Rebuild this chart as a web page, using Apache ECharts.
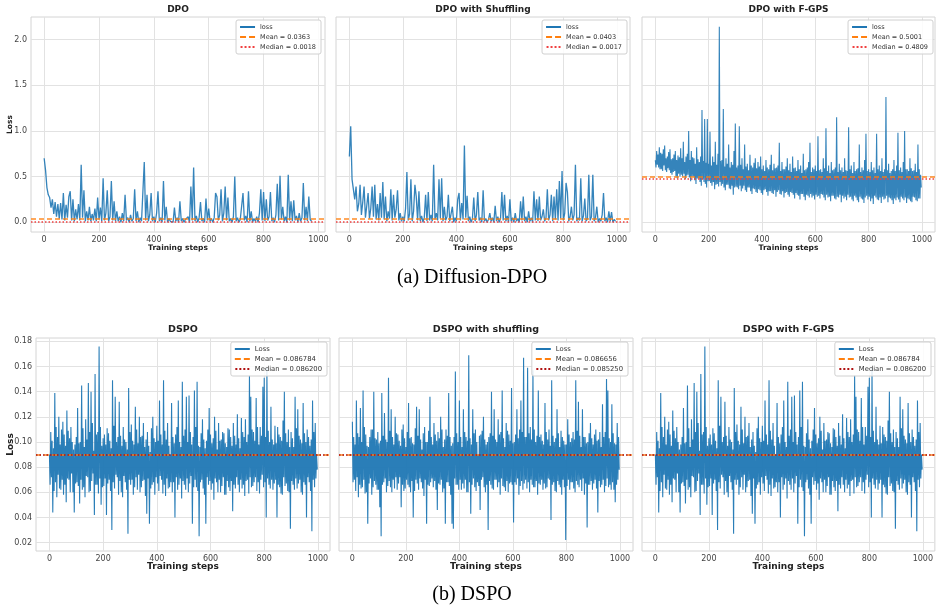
<!DOCTYPE html>
<html>
<head>
<meta charset="utf-8">
<title>DPO / DSPO loss curves</title>
<script src="https://cdn.jsdelivr.net/npm/echarts@6/dist/echarts.min.js"></script>
<style>
  html, body { margin: 0; padding: 0; background: #fff; }
  #chart { width: 936px; height: 607px; }
</style>
</head>
<body>
<div id="chart"></div>
<script>
// DPO curves are read every 5 steps, the dense curves every 2.5 steps
const steps = Array.from({ length: 200 }, (_, i) => i * 5)
const fineSteps = Array.from({ length: 400 }, (_, i) => i * 2.5)

const panelTitles = ['DPO', 'DPO with Shuffling', 'DPO with F-GPS', 'DSPO', 'DSPO with shuffling', 'DSPO with F-GPS']
const meanValues = [0.0363, 0.0403, 0.5001, 0.086784, 0.086656, 0.086784]
const medianValues = [0.0018, 0.0017, 0.4809, 0.0862, 0.08525, 0.0862]
const captions = ['(a) Diffusion-DPO', '(b) DSPO']

const xTicks = [0, 200, 400, 600, 800, 1000]
const topYTicks = [0, 0.5, 1, 1.5, 2]
const bottomYTicks = [0.02, 0.04, 0.06, 0.08, 0.1, 0.12, 0.14, 0.16, 0.18]

// Diffusion-DPO (steps 0..975)
const dpoLoss = [
  0.70, 0.57, 0.38, 0.30, 0.27, 0.16, 0.25, 0.09, 0.22, 0.06, 0.20, 0.04, 0.21, 0.03, 0.32, 0.02, 0.19, 0.05, 0.28, 0.34,
  0.02, 0.25, 0.01, 0.14, 0.03, 0.20, 0.02, 0.63, 0.05, 0.35, 0.01, 0.12, 0.02, 0.17, 0.01, 0.09, 0.02, 0.15, 0.01, 0.27,
  0.03, 0.16, 0.01, 0.48, 0.02, 0.10, 0.35, 0.01, 0.06, 0.45, 0.02, 0.23, 0.01, 0.12, 0.01, 0.06, 0.00, 0.10, 0.01, 0.30,
  0.02, 0.05, 0.00, 0.08, 0.01, 0.04, 0.36, 0.01, 0.12, 0.00, 0.05, 0.01, 0.03, 0.66, 0.02, 0.30, 0.01, 0.08, 0.32, 0.01,
  0.06, 0.00, 0.10, 0.34, 0.01, 0.05, 0.00, 0.45, 0.02, 0.17, 0.00, 0.04, 0.01, 0.03, 0.00, 0.16, 0.01, 0.05, 0.00, 0.23,
  0.01, 0.04, 0.00, 0.03, 0.01, 0.06, 0.00, 0.39, 0.02, 0.60, 0.01, 0.07, 0.00, 0.05, 0.22, 0.01, 0.04, 0.00, 0.26, 0.02,
  0.15, 0.01, 0.04, 0.00, 0.05, 0.32, 0.28, 0.02, 0.08, 0.36, 0.01, 0.10, 0.39, 0.02, 0.27, 0.01, 0.04, 0.00, 0.06, 0.50,
  0.01, 0.05, 0.00, 0.03, 0.01, 0.32, 0.02, 0.07, 0.00, 0.34, 0.01, 0.12, 0.00, 0.04, 0.01, 0.06, 0.00, 0.10, 0.36, 0.02,
  0.33, 0.01, 0.25, 0.02, 0.06, 0.33, 0.01, 0.05, 0.00, 0.08, 0.42, 0.02, 0.51, 0.03, 0.17, 0.01, 0.06, 0.00, 0.52, 0.02,
  0.23, 0.01, 0.24, 0.02, 0.07, 0.00, 0.10, 0.01, 0.05, 0.43, 0.02, 0.17, 0.01, 0.28, 0.03, 0.01
]

const dpoShuffleLoss = [
  0.72, 1.05, 0.47, 0.36, 0.25, 0.39, 0.12, 0.20, 0.41, 0.08, 0.22, 0.39, 0.05, 0.18, 0.32, 0.04, 0.15, 0.39, 0.06, 0.41,
  0.03, 0.20, 0.02, 0.32, 0.05, 0.44, 0.03, 0.28, 0.01, 0.12, 0.04, 0.36, 0.02, 0.30, 0.05, 0.14, 0.35, 0.02, 0.10, 0.01,
  0.06, 0.01, 0.15, 0.55, 0.02, 0.09, 0.47, 0.01, 0.12, 0.41, 0.28, 0.02, 0.34, 0.01, 0.07, 0.00, 0.05, 0.30, 0.01, 0.33,
  0.02, 0.08, 0.01, 0.63, 0.03, 0.10, 0.02, 0.47, 0.04, 0.48, 0.01, 0.17, 0.02, 0.06, 0.30, 0.01, 0.09, 0.17, 0.00, 0.05,
  0.01, 0.25, 0.32, 0.02, 0.21, 0.03, 0.84, 0.05, 0.29, 0.01, 0.06, 0.00, 0.04, 0.27, 0.01, 0.08, 0.33, 0.02, 0.05, 0.00,
  0.35, 0.01, 0.04, 0.00, 0.03, 0.10, 0.01, 0.05, 0.00, 0.18, 0.01, 0.06, 0.00, 0.04, 0.33, 0.02, 0.30, 0.01, 0.07, 0.00,
  0.25, 0.01, 0.05, 0.00, 0.10, 0.01, 0.04, 0.00, 0.23, 0.02, 0.28, 0.01, 0.06, 0.00, 0.12, 0.01, 0.05, 0.00, 0.34, 0.02,
  0.25, 0.01, 0.28, 0.02, 0.06, 0.14, 0.01, 0.05, 0.36, 0.02, 0.08, 0.30, 0.01, 0.28, 0.03, 0.36, 0.02, 0.45, 0.04, 0.56,
  0.02, 0.10, 0.43, 0.33, 0.01, 0.06, 0.17, 0.02, 0.08, 0.63, 0.01, 0.05, 0.02, 0.48, 0.01, 0.07, 0.26, 0.01, 0.04, 0.52,
  0.02, 0.06, 0.52, 0.01, 0.05, 0.17, 0.00, 0.04, 0.01, 0.08, 0.32, 0.01, 0.05, 0.00, 0.12, 0.01, 0.11, 0.00, 0.03, 0.01
]

// every 2.5 steps
const fgpsLoss = [
  0.68, 0.60, 0.78, 0.63, 0.74, 0.60, 0.82, 0.58, 0.76, 0.58, 0.75, 0.56, 0.80, 0.62, 0.84, 0.57, 0.70, 0.55, 0.72, 0.59,
  0.77, 0.57, 0.80, 0.54, 0.69, 0.52, 0.70, 0.55, 0.74, 0.56, 0.78, 0.50, 0.68, 0.48, 0.73, 0.53, 0.71, 0.50, 0.81, 0.52,
  0.70, 0.50, 0.88, 0.53, 0.66, 0.47, 0.72, 0.51, 0.75, 0.52, 1.00, 0.49, 0.68, 0.45, 0.78, 0.50, 0.71, 0.50, 0.70, 0.46,
  0.64, 0.42, 0.82, 0.48, 0.69, 0.48, 0.66, 0.44, 0.72, 0.40, 1.23, 0.47, 0.67, 0.44, 1.13, 0.42, 0.65, 0.38, 1.13, 0.45,
  0.64, 0.45, 0.99, 0.43, 0.62, 0.40, 0.72, 0.44, 0.66, 0.36, 0.88, 0.41, 0.63, 0.42, 0.75, 0.39, 2.14, 0.44, 0.67, 0.40,
  0.68, 0.42, 1.24, 0.38, 0.61, 0.35, 0.70, 0.41, 0.64, 0.41, 0.85, 0.37, 0.60, 0.36, 0.66, 0.40, 0.63, 0.30, 0.78, 0.38,
  1.08, 0.39, 0.60, 0.38, 0.62, 0.36, 1.05, 0.40, 0.63, 0.34, 0.70, 0.37, 0.58, 0.40, 0.85, 0.35, 0.61, 0.33, 0.64, 0.38,
  0.57, 0.38, 0.74, 0.34, 0.62, 0.31, 0.60, 0.37, 0.65, 0.36, 0.70, 0.33, 0.59, 0.32, 0.66, 0.36, 0.61, 0.35, 0.72, 0.32,
  0.58, 0.30, 0.62, 0.35, 0.56, 0.36, 0.68, 0.33, 0.60, 0.29, 0.58, 0.34, 0.63, 0.34, 0.74, 0.32, 0.57, 0.31, 0.64, 0.35,
  0.59, 0.28, 0.60, 0.33, 0.62, 0.35, 0.87, 0.31, 0.56, 0.30, 0.66, 0.34, 0.58, 0.27, 0.58, 0.32, 0.61, 0.33, 0.70, 0.30,
  0.57, 0.28, 0.64, 0.33, 0.55, 0.32, 0.72, 0.30, 0.59, 0.26, 0.60, 0.32, 0.56, 0.30, 0.68, 0.29, 0.58, 0.25, 0.62, 0.31,
  0.54, 0.31, 0.75, 0.28, 0.57, 0.24, 0.58, 0.30, 0.60, 0.29, 0.66, 0.27, 0.87, 0.31, 0.55, 0.27, 0.60, 0.29, 0.58, 0.25,
  0.62, 0.30, 0.56, 0.28, 0.94, 0.29, 0.57, 0.26, 0.58, 0.31, 0.55, 0.30, 0.70, 0.27, 0.59, 0.24, 1.03, 0.30, 0.56, 0.27,
  0.62, 0.28, 0.54, 0.23, 0.66, 0.29, 0.57, 0.29, 0.58, 0.26, 0.60, 0.25, 1.15, 0.28, 0.55, 0.27, 0.64, 0.30, 0.57, 0.22,
  0.60, 0.29, 0.55, 0.26, 0.70, 0.28, 0.57, 0.24, 0.56, 0.30, 1.04, 0.27, 0.58, 0.28, 0.62, 0.25, 0.54, 0.23, 0.66, 0.29,
  0.56, 0.27, 0.58, 0.24, 0.59, 0.22, 0.85, 0.28, 0.55, 0.26, 0.60, 0.25, 0.57, 0.21, 0.68, 0.27, 0.97, 0.29, 0.56, 0.25,
  0.58, 0.28, 0.55, 0.23, 0.66, 0.26, 0.57, 0.20, 0.60, 0.29, 0.54, 0.27, 0.97, 0.25, 0.58, 0.24, 0.62, 0.27, 0.56, 0.21,
  0.70, 0.28, 0.55, 0.25, 0.58, 0.26, 1.37, 0.29, 0.57, 0.22, 0.64, 0.27, 0.54, 0.26, 0.56, 0.24, 0.58, 0.20, 0.68, 0.26,
  0.56, 0.24, 0.62, 0.27, 0.98, 0.25, 0.57, 0.22, 0.60, 0.28, 0.55, 0.26, 0.66, 0.24, 1.00, 0.27, 0.58, 0.21, 0.58, 0.26,
  0.56, 0.25, 0.70, 0.23, 0.59, 0.22, 0.56, 0.28, 0.57, 0.27, 0.64, 0.24, 0.55, 0.23, 0.85, 0.26, 0.58, 0.26, 0.52, 0.38
]

// DSPO and DSPO with F-GPS show the same curve (every 2.5 steps)
const dspoLoss = [
  0.090, 0.066, 0.108, 0.072, 0.101, 0.044, 0.095, 0.061, 0.139, 0.068, 0.112, 0.056, 0.104, 0.074, 0.120, 0.063, 0.098, 0.062, 0.110, 0.070,
  0.116, 0.058, 0.106, 0.066, 0.097, 0.052, 0.125, 0.071, 0.109, 0.070, 0.103, 0.060, 0.112, 0.075, 0.100, 0.060, 0.094, 0.044, 0.098, 0.067,
  0.104, 0.068, 0.127, 0.065, 0.099, 0.051, 0.100, 0.070, 0.145, 0.062, 0.111, 0.064, 0.096, 0.056, 0.118, 0.073, 0.102, 0.072, 0.147, 0.060,
  0.108, 0.061, 0.140, 0.069, 0.115, 0.075, 0.093, 0.042, 0.154, 0.066, 0.106, 0.066, 0.108, 0.059, 0.176, 0.071, 0.112, 0.050, 0.097, 0.064,
  0.103, 0.065, 0.106, 0.071, 0.098, 0.042, 0.111, 0.067, 0.107, 0.070, 0.101, 0.061, 0.095, 0.030, 0.149, 0.068, 0.113, 0.063, 0.136, 0.074,
  0.100, 0.072, 0.104, 0.058, 0.132, 0.069, 0.105, 0.060, 0.097, 0.056, 0.112, 0.073, 0.102, 0.068, 0.100, 0.062, 0.094, 0.027, 0.143, 0.070,
  0.108, 0.066, 0.114, 0.070, 0.101, 0.058, 0.098, 0.064, 0.128, 0.072, 0.110, 0.062, 0.099, 0.074, 0.120, 0.060, 0.104, 0.064, 0.105, 0.069,
  0.115, 0.070, 0.096, 0.057, 0.102, 0.043, 0.108, 0.071, 0.097, 0.035, 0.092, 0.063, 0.111, 0.066, 0.120, 0.068, 0.103, 0.058, 0.100, 0.072,
  0.113, 0.067, 0.101, 0.061, 0.133, 0.073, 0.106, 0.070, 0.098, 0.059, 0.149, 0.066, 0.109, 0.057, 0.102, 0.071, 0.115, 0.063, 0.097, 0.064,
  0.090, 0.068, 0.131, 0.060, 0.104, 0.068, 0.099, 0.040, 0.106, 0.072, 0.112, 0.062, 0.133, 0.066, 0.100, 0.071, 0.096, 0.055, 0.148, 0.069,
  0.105, 0.066, 0.110, 0.062, 0.136, 0.071, 0.100, 0.060, 0.137, 0.067, 0.108, 0.073, 0.098, 0.035, 0.104, 0.064, 0.141, 0.070, 0.112, 0.064,
  0.148, 0.061, 0.097, 0.025, 0.096, 0.068, 0.107, 0.070, 0.118, 0.063, 0.102, 0.058, 0.095, 0.035, 0.101, 0.072, 0.110, 0.066, 0.127, 0.069,
  0.106, 0.062, 0.099, 0.067, 0.103, 0.054, 0.120, 0.071, 0.109, 0.068, 0.094, 0.060, 0.115, 0.070, 0.101, 0.060, 0.102, 0.065, 0.108, 0.072,
  0.107, 0.058, 0.099, 0.058, 0.096, 0.069, 0.111, 0.064, 0.110, 0.061, 0.104, 0.069, 0.097, 0.045, 0.115, 0.066, 0.105, 0.063, 0.098, 0.072,
  0.122, 0.066, 0.103, 0.060, 0.095, 0.070, 0.119, 0.063, 0.108, 0.066, 0.104, 0.057, 0.118, 0.069, 0.100, 0.070, 0.106, 0.059, 0.153, 0.072,
  0.136, 0.064, 0.110, 0.065, 0.108, 0.068, 0.101, 0.072, 0.135, 0.061, 0.112, 0.068, 0.098, 0.059, 0.112, 0.070, 0.105, 0.074, 0.144, 0.064,
  0.151, 0.068, 0.104, 0.040, 0.159, 0.071, 0.109, 0.066, 0.100, 0.063, 0.128, 0.070, 0.102, 0.062, 0.098, 0.067, 0.113, 0.070, 0.099, 0.040,
  0.112, 0.066, 0.106, 0.064, 0.104, 0.059, 0.101, 0.058, 0.117, 0.072, 0.140, 0.065, 0.107, 0.067, 0.100, 0.061, 0.110, 0.060, 0.096, 0.031,
  0.108, 0.069, 0.103, 0.066, 0.096, 0.062, 0.136, 0.071, 0.111, 0.063, 0.126, 0.067, 0.105, 0.070, 0.102, 0.060, 0.099, 0.058, 0.131, 0.068,
  0.107, 0.066, 0.100, 0.040, 0.110, 0.072, 0.104, 0.068, 0.097, 0.061, 0.102, 0.029, 0.133, 0.070, 0.108, 0.064, 0.115, 0.071, 0.090, 0.078
]

const dspoShuffleLoss = [
  0.116, 0.068, 0.104, 0.070, 0.098, 0.061, 0.133, 0.072, 0.107, 0.056, 0.104, 0.066, 0.127, 0.063, 0.100, 0.064, 0.141, 0.070, 0.112, 0.059,
  0.106, 0.060, 0.097, 0.035, 0.096, 0.067, 0.104, 0.071, 0.110, 0.058, 0.110, 0.064, 0.140, 0.069, 0.103, 0.066, 0.102, 0.062, 0.108, 0.062,
  0.099, 0.048, 0.101, 0.025, 0.139, 0.066, 0.105, 0.068, 0.123, 0.071, 0.102, 0.060, 0.100, 0.065, 0.151, 0.069, 0.109, 0.064, 0.126, 0.060,
  0.104, 0.070, 0.098, 0.063, 0.120, 0.072, 0.107, 0.062, 0.106, 0.067, 0.101, 0.072, 0.097, 0.048, 0.110, 0.066, 0.114, 0.061, 0.103, 0.063,
  0.096, 0.070, 0.108, 0.066, 0.131, 0.064, 0.103, 0.060, 0.104, 0.069, 0.099, 0.040, 0.098, 0.061, 0.111, 0.070, 0.128, 0.067, 0.105, 0.062,
  0.126, 0.071, 0.102, 0.068, 0.094, 0.063, 0.107, 0.057, 0.112, 0.070, 0.100, 0.035, 0.100, 0.066, 0.109, 0.065, 0.136, 0.068, 0.104, 0.071,
  0.098, 0.064, 0.115, 0.069, 0.106, 0.062, 0.101, 0.046, 0.108, 0.067, 0.103, 0.066, 0.120, 0.070, 0.110, 0.060, 0.096, 0.063, 0.102, 0.035,
  0.110, 0.068, 0.105, 0.068, 0.139, 0.065, 0.104, 0.058, 0.097, 0.035, 0.099, 0.031, 0.104, 0.071, 0.156, 0.066, 0.107, 0.066, 0.100, 0.062,
  0.133, 0.070, 0.104, 0.062, 0.096, 0.067, 0.126, 0.063, 0.108, 0.070, 0.104, 0.060, 0.101, 0.060, 0.169, 0.068, 0.103, 0.043, 0.098, 0.066,
  0.126, 0.071, 0.107, 0.064, 0.110, 0.061, 0.100, 0.068, 0.090, 0.065, 0.105, 0.046, 0.106, 0.070, 0.109, 0.072, 0.120, 0.064, 0.102, 0.060,
  0.098, 0.066, 0.100, 0.030, 0.104, 0.069, 0.107, 0.066, 0.140, 0.063, 0.105, 0.062, 0.126, 0.070, 0.102, 0.070, 0.100, 0.064, 0.118, 0.068,
  0.106, 0.058, 0.108, 0.071, 0.141, 0.065, 0.103, 0.064, 0.096, 0.061, 0.115, 0.069, 0.109, 0.060, 0.106, 0.067, 0.101, 0.068, 0.143, 0.066,
  0.099, 0.036, 0.100, 0.068, 0.106, 0.066, 0.126, 0.071, 0.103, 0.058, 0.110, 0.065, 0.133, 0.069, 0.108, 0.062, 0.167, 0.067, 0.104, 0.070,
  0.104, 0.063, 0.159, 0.068, 0.107, 0.060, 0.112, 0.070, 0.102, 0.066, 0.157, 0.064, 0.110, 0.064, 0.100, 0.069, 0.105, 0.058, 0.141, 0.067,
  0.104, 0.066, 0.106, 0.070, 0.101, 0.062, 0.098, 0.067, 0.131, 0.063, 0.108, 0.064, 0.102, 0.071, 0.110, 0.070, 0.097, 0.038, 0.149, 0.066,
  0.105, 0.068, 0.100, 0.061, 0.103, 0.060, 0.126, 0.069, 0.107, 0.066, 0.096, 0.064, 0.109, 0.058, 0.104, 0.070, 0.101, 0.064, 0.098, 0.022,
  0.098, 0.065, 0.118, 0.070, 0.106, 0.062, 0.100, 0.068, 0.103, 0.068, 0.108, 0.063, 0.102, 0.060, 0.149, 0.069, 0.109, 0.066, 0.132, 0.064,
  0.105, 0.070, 0.096, 0.061, 0.126, 0.071, 0.104, 0.058, 0.104, 0.067, 0.099, 0.032, 0.100, 0.066, 0.107, 0.066, 0.115, 0.069, 0.103, 0.062,
  0.098, 0.067, 0.106, 0.070, 0.110, 0.063, 0.101, 0.044, 0.102, 0.069, 0.108, 0.064, 0.096, 0.066, 0.130, 0.070, 0.104, 0.060, 0.108, 0.065,
  0.150, 0.071, 0.141, 0.064, 0.103, 0.066, 0.100, 0.062, 0.130, 0.068, 0.107, 0.062, 0.099, 0.052, 0.098, 0.066, 0.115, 0.070, 0.104, 0.078
]

// layout of the two rows and six panels
const rows = [
  { top: 17, height: 215, yMin: -0.107, yMax: 2.247, yTicks: topYTicks, digits: 1, statDigits: 4, lossName: 'loss',
    labelSize: 8, nameSize: 7.5, titleSize: 9, titleY: 10, legendTop: 20, legendFont: 6.5, xNameGap: 12, yNameGap: 17,
    medianColor: '#f04040', captionY: 278 },
  { top: 338, height: 213, yMin: 0.0133, yMax: 0.1827, yTicks: bottomYTicks, digits: 2, statDigits: 6, lossName: 'Loss',
    labelSize: 8, nameSize: 9, titleSize: 9.5, titleY: 330, legendTop: 342, legendFont: 6.8, xNameGap: 11, yNameGap: 21,
    medianColor: '#b01010', captionY: 595 }
]
const panels = [
  { row: 0, left: 31, width: 294, xMin: -48, xMax: 1024, legendRight: 615, showY: true, loss: dpoLoss, x: steps, lineWidth: 1.3, opacity: 0.9 },
  { row: 0, left: 336, width: 294, xMin: -50, xMax: 1049, legendRight: 309, loss: dpoShuffleLoss, x: steps, lineWidth: 1.3, opacity: 0.9 },
  { row: 0, left: 642, width: 293, xMin: -50, xMax: 1049, legendRight: 3, loss: fgpsLoss, x: fineSteps, lineWidth: 1.1, opacity: 0.9 },
  { row: 1, left: 36, width: 294, xMin: -50, xMax: 1045, legendRight: 609, showY: true, loss: dspoLoss, x: fineSteps, lineWidth: 1.1, opacity: 0.95 },
  { row: 1, left: 339, width: 294, xMin: -50, xMax: 1049, legendRight: 308, loss: dspoShuffleLoss, x: fineSteps, lineWidth: 1.1, opacity: 0.95 },
  { row: 1, left: 642, width: 293, xMin: -50, xMax: 1045, legendRight: 5, loss: dspoLoss, x: fineSteps, lineWidth: 1.1, opacity: 0.95 }
]

const solidIcon = 'path://M0,0h15v2h-15z'
const dashIcon = 'path://M0,0h6v2h-6zM9,0h6v2h-6z'
const dotIcon = 'path://M0,0h2v2h-2zM4,0h2v2h-2zM8,0h2v2h-2zM12,0h2v2h-2z'

const grid = [], xAxis = [], yAxis = [], series = [], legend = [], graphic = []

panels.forEach((p, i) => {
  const r = rows[p.row]
  const meanName = 'Mean = ' + meanValues[i].toFixed(r.statDigits)
  const medianName = 'Median = ' + medianValues[i].toFixed(r.statDigits)

  grid.push({ left: p.left, top: r.top, width: p.width, height: r.height, show: true, borderColor: '#d4d4d4', borderWidth: 1 })

  xAxis.push({
    type: 'value', gridIndex: i, min: p.xMin, max: p.xMax,
    name: 'Training steps', nameLocation: 'middle', nameGap: r.xNameGap, nameMoveOverlap: false,
    nameTextStyle: { fontSize: r.nameSize, fontWeight: 'bold', color: '#222' },
    axisLine: { show: false },
    axisTick: { show: false, customValues: xTicks },
    axisLabel: { customValues: xTicks, fontSize: r.labelSize, color: '#444', margin: 4, formatter: v => String(v) },
    splitLine: { show: true, lineStyle: { color: '#e2e2e2', width: 1 } }
  })

  yAxis.push({
    type: 'value', gridIndex: i, min: r.yMin, max: r.yMax,
    name: p.showY ? 'Loss' : '', nameLocation: 'middle', nameGap: r.yNameGap, nameMoveOverlap: false,
    nameTextStyle: { fontSize: r.nameSize, fontWeight: 'bold', color: '#222' },
    axisLine: { show: false },
    axisTick: { show: false, customValues: r.yTicks },
    axisLabel: { show: !!p.showY, customValues: r.yTicks, fontSize: r.labelSize, color: '#444', margin: 4,
      formatter: v => v.toFixed(r.digits) },
    splitLine: { show: true, lineStyle: { color: '#e2e2e2', width: 1 } }
  })

  series.push({
    name: r.lossName, type: 'line', xAxisIndex: i, yAxisIndex: i,
    data: p.loss.map((v, k) => [p.x[k], v]),
    symbol: 'none', sampling: null, color: '#1f77b4',
    lineStyle: { color: '#1f77b4', width: p.lineWidth, opacity: p.opacity }, z: 2
  })
  series.push({
    name: meanName, type: 'line', xAxisIndex: i, yAxisIndex: i, data: [], color: '#ff7f0e', z: 4,
    markLine: { symbol: ['none', 'none'], silent: true, label: { show: false },
      lineStyle: { color: '#ff7f0e', type: [5, 3], width: 1.5, opacity: 0.9 },
      data: [{ yAxis: meanValues[i] }] }
  })
  series.push({
    name: medianName, type: 'line', xAxisIndex: i, yAxisIndex: i, data: [], color: r.medianColor, z: 3,
    markLine: { symbol: ['none', 'none'], silent: true, label: { show: false },
      lineStyle: { color: r.medianColor, type: [1.5, 2], width: 1.5 },
      data: [{ yAxis: medianValues[i] }] }
  })

  legend.push({
    orient: 'vertical', right: p.legendRight, top: r.legendTop, selectedMode: false,
    data: [{ name: r.lossName, icon: solidIcon }, { name: meanName, icon: dashIcon }, { name: medianName, icon: dotIcon }],
    itemWidth: 15, itemHeight: 2, itemGap: 2, padding: [3, 5, 3, 4],
    itemStyle: { borderWidth: 0 },
    backgroundColor: 'rgba(255,255,255,0.85)', borderColor: '#d0d0d0', borderWidth: 1, borderRadius: 2,
    textStyle: { fontSize: r.legendFont, color: '#333', lineHeight: 8 }
  })

  graphic.push({
    type: 'text', x: p.left + p.width / 2, y: r.titleY,
    style: { text: panelTitles[i], fontSize: r.titleSize, fontWeight: 'bold', fontFamily: 'DejaVu Sans',
      fill: '#222', align: 'center', verticalAlign: 'middle' }
  })
})

rows.forEach((r, k) => {
  graphic.push({
    type: 'text', x: 472, y: r.captionY,
    style: { text: captions[k], fontSize: 20, fontFamily: 'Liberation Serif', fill: '#000',
      align: 'center', verticalAlign: 'middle' }
  })
})

const chart = echarts.init(document.getElementById('chart'), null, { renderer: 'canvas' })
chart.setOption({
  animation: false,
  backgroundColor: '#fff',
  textStyle: { fontFamily: 'DejaVu Sans' },
  grid, xAxis, yAxis, series, legend, graphic
})
</script>
</body>
</html>
